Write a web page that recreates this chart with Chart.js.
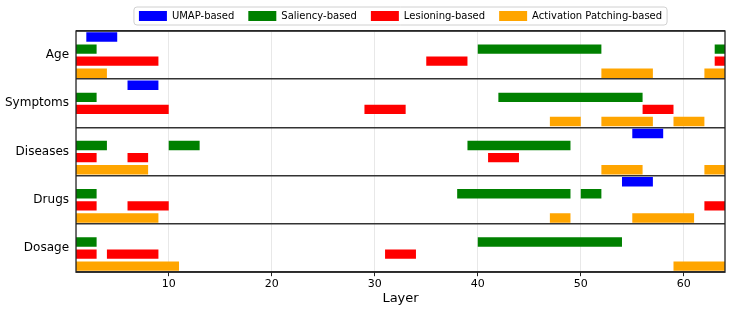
<!DOCTYPE html>
<html>
<head>
<meta charset="utf-8">
<script src="https://cdn.jsdelivr.net/npm/chart.js@4"></script>
<style>
  html, body { margin: 0; padding: 0; background: #fff; }
  #wrap { width: 731px; height: 309px; }
</style>
</head>
<body>
<div id="wrap"><canvas id="layerChart"></canvas></div>
<script>
const categories = ["Age", "Symptoms", "Diseases", "Drugs", "Dosage"];
const methods = ["UMAP-based", "Saliency-based", "Lesioning-based", "Activation Patching-based"];
const methodColors = ["#0000ff", "#008000", "#ff0000", "#ffa500"];

// layer ranges [start, end] per category, one array per method
const umapRanges = [
  [[2, 5]],
  [[6, 9]],
  [[55, 58]],
  [[54, 57]],
  []
];
const saliencyRanges = [
  [[1, 3], [40, 52], [63, 64]],
  [[1, 3], [42, 56]],
  [[1, 4], [10, 13], [39, 49]],
  [[1, 3], [38, 49], [50, 52]],
  [[1, 3], [40, 54]]
];
const lesioningRanges = [
  [[1, 9], [35, 39], [63, 64]],
  [[1, 10], [29, 33], [56, 59]],
  [[1, 3], [6, 8], [41, 44]],
  [[1, 3], [6, 10], [62, 64]],
  [[1, 3], [4, 9], [31, 34]]
];
const patchingRanges = [
  [[1, 4], [52, 57], [62, 64]],
  [[47, 50], [52, 57], [59, 62]],
  [[1, 8], [52, 56], [62, 64]],
  [[1, 9], [47, 49], [55, 61]],
  [[1, 11], [59, 64]]
];
const layerTicks = [10, 20, 30, 40, 50, 60];

const allRanges = [umapRanges, saliencyRanges, lesioningRanges, patchingRanges];
const rowsPer = methods.length;

const datasets = methods.map((name, m) => ({
  label: name,
  backgroundColor: methodColors[m],
  borderColor: methodColors[m],
  borderWidth: 0,
  data: allRanges[m].flatMap((list, c) =>
    list.map(r => ({ x: r, y: c * rowsPer + m })))
}));

const centerOf = c => c * rowsPer + (rowsPer - 1) / 2;
const isCenter = v => Math.abs(((v + 0.5) % rowsPer) - rowsPer / 2) < 0.01;
const tickIsCenter = ctx => !!(ctx && ctx.tick && isCenter(ctx.tick.value));

const framePlugin = {
  id: "frame",
  afterDraw(chart) {
    const ctx = chart.ctx;
    const a = chart.chartArea;
    ctx.save();
    ctx.strokeStyle = "#222";
    ctx.lineWidth = 1.3;
    ctx.strokeRect(a.left, a.top, a.right - a.left, a.bottom - a.top);
    // legend frame
    const boxes = chart.legend.legendHitBoxes;
    if (boxes && boxes.length) {
      const first = boxes[0], last = boxes[boxes.length - 1];
      const x0 = first.left - 5, x1 = last.left + last.width + 5;
      const y0 = first.top - 4, y1 = first.top + first.height + 4;
      ctx.strokeStyle = "#d0d0d0";
      ctx.lineWidth = 1;
      ctx.beginPath();
      ctx.roundRect(x0, y0, x1 - x0, y1 - y0, 3);
      ctx.stroke();
    }
    ctx.restore();
  }
};

new Chart(document.getElementById("layerChart"), {
  type: "bar",
  data: { datasets },
  plugins: [framePlugin],
  options: {
    indexAxis: "y",
    responsive: true,
    maintainAspectRatio: false,
    animation: false,
    layout: { padding: { left: 2, right: 6, top: -3, bottom: 3 } },
    datasets: {
      bar: { grouped: false, barPercentage: 0.78, categoryPercentage: 1 }
    },
    plugins: {
      legend: {
        position: "top",
        fullSize: false,
        labels: {
          boxWidth: 28,
          boxHeight: 10,
          padding: 14,
          color: "#000",
          font: { family: "DejaVu Sans", size: 10 }
        }
      },
      tooltip: { enabled: false }
    },
    scales: {
      x: {
        type: "linear",
        min: 1,
        max: 64,
        afterBuildTicks: scale => {
          scale.ticks = layerTicks.map(v => ({ value: v }));
        },
        grid: { color: "#e8e8e8", tickColor: "#222", tickLength: 4 },
        border: { display: false },
        ticks: { color: "#000", padding: 1, font: { family: "DejaVu Sans", size: 11 } },
        title: {
          display: true,
          text: "Layer",
          color: "#000",
          padding: { top: -1, bottom: 0 },
          font: { family: "DejaVu Sans", size: 13 }
        }
      },
      y: {
        type: "linear",
        reverse: true,
        offset: false,
        min: -0.5,
        max: categories.length * rowsPer - 0.5,
        afterBuildTicks: scale => {
          const t = [];
          for (let c = 0; c <= categories.length; c++) {
            t.push({ value: c * rowsPer - 0.5 });
            if (c < categories.length) t.push({ value: centerOf(c) });
          }
          scale.ticks = t;
        },
        grid: {
          offset: false,
          color: ctx => tickIsCenter(ctx) ? "rgba(0,0,0,0)" : "#333",
          lineWidth: ctx => tickIsCenter(ctx) ? 0 : 1.5,
          tickColor: ctx => tickIsCenter(ctx) ? "#333" : "rgba(0,0,0,0)",
          tickLength: 4
        },
        border: { display: false },
        ticks: {
          color: "#000",
          padding: 3,
          autoSkip: false,
          font: { family: "DejaVu Sans", size: 12 },
          callback: v => isCenter(v) ? categories[Math.round((v - 1.5) / rowsPer)] : ""
        }
      }
    }
  }
});
</script>
</body>
</html>
